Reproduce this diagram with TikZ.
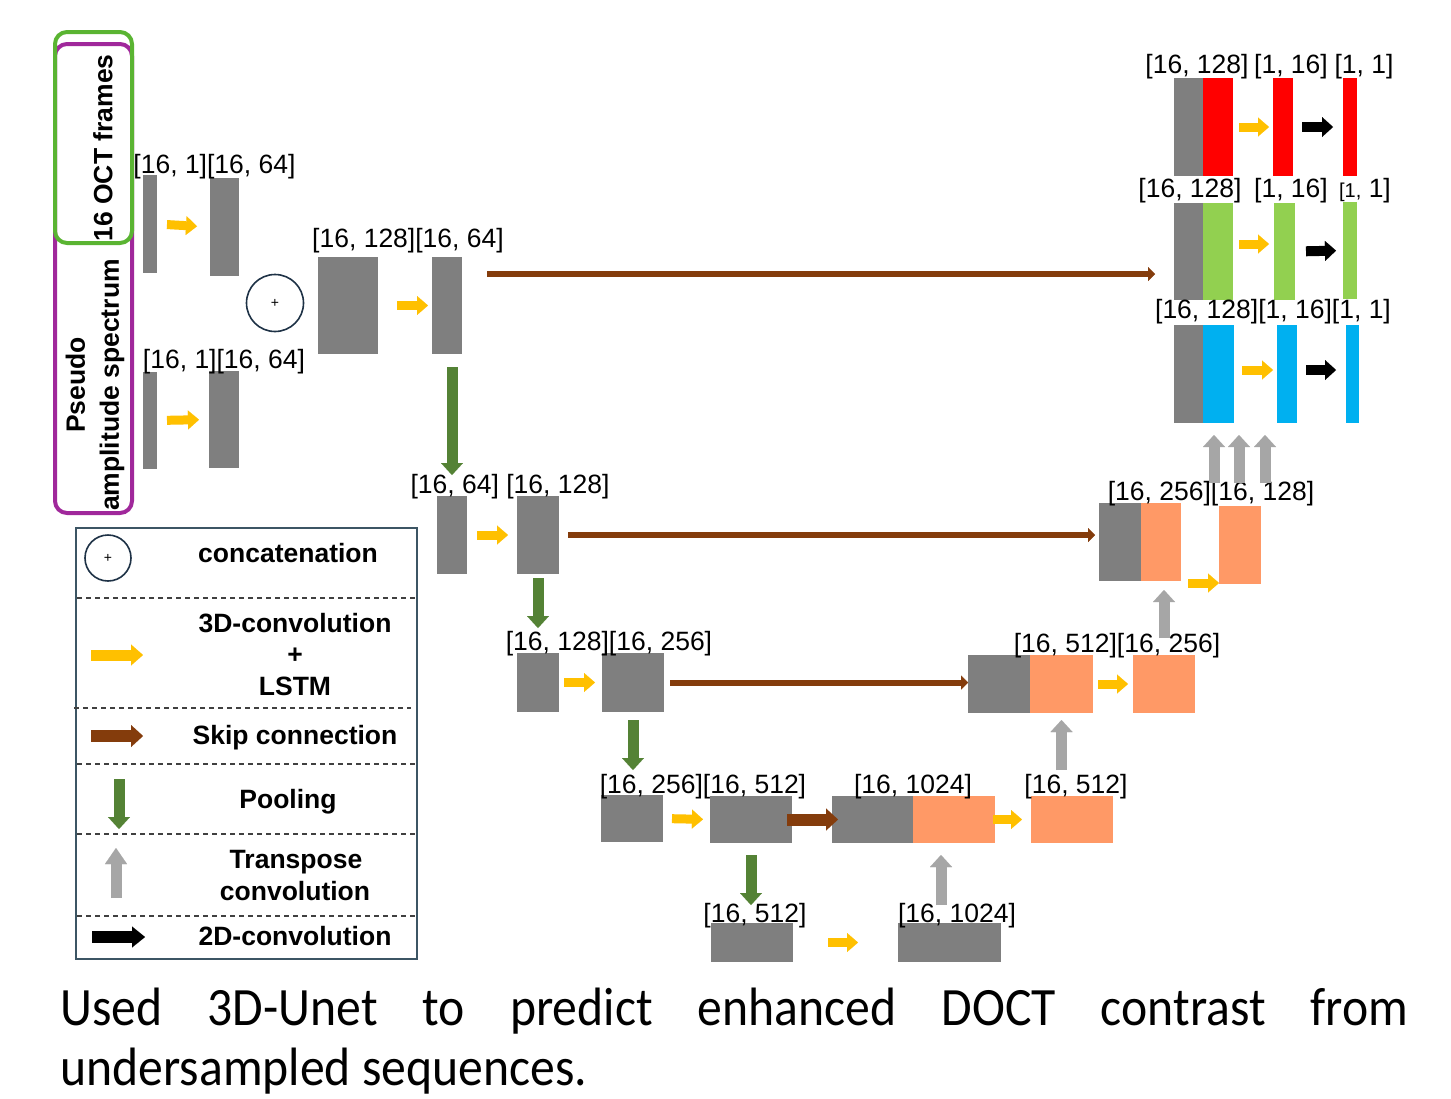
\documentclass[tikz,border=0pt]{standalone}
\usepackage{fontspec}
\usepackage{graphicx}
\setmainfont{Liberation Sans}
\newfontfamily\capfont[FakeStretch=0.92]{Carlito}
\usetikzlibrary{arrows.meta,fit,calc}

\definecolor{blkgray}{RGB}{127,127,127}
\definecolor{blkorange}{RGB}{255,153,102}
\definecolor{outred}{RGB}{255,0,0}
\definecolor{outgreen}{RGB}{146,208,80}
\definecolor{outblue}{RGB}{0,176,240}
\definecolor{convyellow}{RGB}{255,192,0}
\definecolor{skipbrown}{RGB}{132,60,12}
\definecolor{poolgreen}{RGB}{84,130,53}
\definecolor{upgray}{RGB}{166,166,166}
\definecolor{framegreen}{RGB}{90,180,50}
\definecolor{framepurple}{RGB}{160,40,155}
\definecolor{legendedge}{RGB}{60,85,100}
\definecolor{circedge}{RGB}{30,50,70}

\newcommand\lab{\fontsize{13.25}{16}\selectfont}
% block from pixel corners: name, x1, y1, x2, y2, colour
\newcommand\blockat[6]{\node[blk, fill=#6, fit={(#2,#3) (#4,#5)}] (#1) {};}

\tikzset{
  blk/.style={inner sep=0pt, outer sep=0pt, draw=none},
  dim/.style={font=\lab, inner sep=0pt, anchor=base},
  legtxt/.style={font=\lab\bfseries, inner sep=0pt, anchor=base},
  catcirc/.style={circle, draw=circedge, line width=0.8pt, inner sep=0pt, font=\fontsize{7}{8}\selectfont},
  conv/.style={draw=convyellow, line width=4.5pt, -{Triangle[length=5.5pt,width=9.5pt,line width=0.01pt]}},
  convtwo/.style={draw=black, line width=5pt, -{Triangle[length=5.5pt,width=10pt,line width=0.01pt]}},
  skipthin/.style={draw=skipbrown, line width=3pt, -{Triangle[length=3.5pt,width=7pt,line width=0.01pt]}},
  skipthick/.style={draw=skipbrown, line width=6pt, -{Triangle[length=6pt,width=11pt,line width=0.01pt]}},
  pool/.style={draw=poolgreen, line width=5.5pt, -{Triangle[length=6pt,width=11pt,line width=0.01pt]}},
  upconv/.style={draw=upgray, line width=5.5pt, -{Triangle[length=6pt,width=11pt,line width=0.01pt]}},
  sep/.style={draw=black!75, line width=0.75pt, dash pattern=on 2.5pt off 2pt},
}

\begin{document}
\begin{tikzpicture}[x=0.5pt, y=-0.5pt]
\fill[white] (0,0) rectangle (1451,1098);
\useasboundingbox (0,0) rectangle (1451,1098);

% ---- input frames ----
\node[fit={(55,44) (132,513)}, inner sep=0pt, draw=framepurple, line width=2pt, rounded corners=6pt] (pframe) {};
\node[fit={(55,32) (132,243)}, inner sep=0pt, draw=framegreen, line width=2pt, rounded corners=6pt] (gframe) {};
\node[rotate=90, font=\lab\bfseries, inner sep=0pt] (octtxt) at (103,148) {16 OCT frames};
\node[rotate=90, font=\fontsize{13.25}{17}\selectfont\bfseries, align=center, inner sep=0pt] (pastxt) at (95,385) {Pseudo\\amplitude spectrum};

% ---- encoder ----
\blockat{in1a}{143}{175}{157}{273}{blkgray}
\blockat{in1b}{210}{178}{239}{276}{blkgray}
\blockat{in2a}{143}{372}{157}{469}{blkgray}
\blockat{in2b}{209}{371}{239}{468}{blkgray}
\node[catcirc, minimum size=28.5pt] (cat) at (275,303) {+};
\blockat{e1a}{318}{257}{378}{354}{blkgray}
\blockat{e1b}{432}{257}{462}{354}{blkgray}
\blockat{e2a}{437}{496}{467}{574}{blkgray}
\blockat{e2b}{517}{496}{559}{574}{blkgray}
\blockat{e3a}{517}{653}{559}{712}{blkgray}
\blockat{e3b}{602}{653}{664}{712}{blkgray}
\blockat{e4a}{601}{795}{663}{842}{blkgray}
\blockat{e4b}{710}{796}{792}{843}{blkgray}
\blockat{bn1}{711}{923}{793}{962}{blkgray}
\blockat{bn2}{898}{923}{1001}{962}{blkgray}

% ---- decoder ----
\blockat{d4g}{832}{796}{913}{843}{blkgray}
\blockat{d4o}{913}{796}{995}{843}{blkorange}
\blockat{d4c}{1031}{796}{1113}{843}{blkorange}
\blockat{d3g}{968}{655}{1030}{713}{blkgray}
\blockat{d3o}{1030}{655}{1093}{713}{blkorange}
\blockat{d3c}{1133}{655}{1195}{713}{blkorange}
\blockat{d2g}{1099}{503}{1141}{581}{blkgray}
\blockat{d2o}{1141}{503}{1181}{581}{blkorange}
\blockat{d2c}{1219}{506}{1261}{584}{blkorange}

% ---- output heads ----
\blockat{r1g}{1174}{78}{1203}{176}{blkgray}
\blockat{r1c}{1203}{78}{1233}{176}{outred}
\blockat{r1m}{1273}{78}{1293}{176}{outred}
\blockat{r1e}{1343}{78}{1357}{176}{outred}
\blockat{r2g}{1174}{203}{1203}{300}{blkgray}
\blockat{r2c}{1203}{203}{1233}{300}{outgreen}
\blockat{r2m}{1274}{203}{1295}{300}{outgreen}
\blockat{r2e}{1343}{202}{1357}{299}{outgreen}
\blockat{r3g}{1174}{325}{1203}{423}{blkgray}
\blockat{r3c}{1203}{325}{1234}{423}{outblue}
\blockat{r3m}{1277}{325}{1297}{423}{outblue}
\blockat{r3e}{1346}{325}{1359}{423}{outblue}

% ---- size labels ----
\node[dim] (t1) at (214.5,173) {[16, 1][16, 64]};
\node[dim] (t2) at (224,368) {[16, 1][16, 64]};
\node[dim] (t3) at (408,247) {[16, 128][16, 64]};
\node[dim] (t4) at (510,493) {[16, 64] [16, 128]};
\node[dim] (t5) at (609,650) {[16, 128][16, 256]};
\node[dim] (t6) at (703,793) {[16, 256][16, 512]};
\node[dim] (t7) at (913,793) {[16, 1024]};
\node[dim] (t8) at (1076,793) {[16, 512]};
\node[dim] (t9) at (755,922) {[16, 512]};
\node[dim] (t10) at (957,922) {[16, 1024]};
\node[dim] (t11) at (1117,652) {[16, 512][16, 256]};
\node[dim] (t12) at (1211,500) {[16, 256][16, 128]};
\node[dim] (t13) at (1197,73) {[16, 128]};
\node[dim] (t14) at (1291,73) {[1, 16]};
\node[dim] (t15) at (1364,73) {[1, 1]};
\node[dim] (t16) at (1190,197) {[16, 128]};
\node[dim] (t17) at (1291,197) {[1, 16]};
\node[dim] (t18) at (1365,197) {{\fontsize{10}{12}\selectfont[1,} 1]};
\node[dim] (t19) at (1273,318) {[16, 128][1, 16][1, 1]};

% ---- 3D-convolution + LSTM ----
\draw[conv, shorten <=5pt, shorten >=6.5pt] (in1a.east) -- (in1b.west);
\draw[conv, shorten <=5pt, shorten >=5pt] (in2a.east) -- (in2b.west);
\draw[conv, shorten <=9.5pt, shorten >=2pt] (e1a.east) -- (e1b.west);
\draw[conv, shorten <=5pt, shorten >=4.5pt] (e2a.east) -- (e2b.west);
\draw[conv, shorten <=2.5pt, shorten >=3.5pt] (e3a.east) -- (e3b.west);
\draw[conv, shorten <=4.5pt, shorten >=3.5pt] (e4a.east) -- (e4b.west);
\draw[conv, shorten <=17.5pt, shorten >=20pt] (bn1.east) -- (bn2.west);
\draw[conv, shorten <=-1pt, shorten >=4.5pt] (d4o.east) -- (d4c.west);
\draw[conv, shorten <=2.5pt, shorten >=2.5pt] (d3o.east) -- (d3c.west);
\draw[conv, shorten <=3.5pt, shorten >=0pt] ([yshift=-1pt]d2o.south east) -- ([yshift=-1pt]d2o.south east -| d2c.west);
\draw[conv, shorten <=3pt, shorten >=2pt] (r1c.east) -- (r1m.west);
\draw[conv, shorten <=3pt, shorten >=2.5pt] ([yshift=3.75pt]r2c.east) -- ([yshift=3.75pt]r2c.east -| r2m.west);
\draw[conv, shorten <=4pt, shorten >=2pt] ([yshift=2pt]r3c.east) -- ([yshift=2pt]r3c.east -| r3m.west);

% ---- 2D-convolution ----
\draw[convtwo, shorten <=4.5pt, shorten >=5pt] (r1m.east) -- (r1e.west);
\draw[convtwo, shorten <=5.5pt, shorten >=3.5pt] (r2m.east) -- (r2e.west);
\draw[convtwo, shorten <=4.5pt, shorten >=5pt] ([yshift=2pt]r3m.east) -- ([yshift=2pt]r3m.east -| r3e.west);

% ---- skip connections ----
\draw[skipthin, shorten <=12.5pt, shorten >=9.5pt] ([yshift=15.75pt]e1b.east) -- ([yshift=15.75pt]e1b.east -| r2g.west);
\draw[skipthin, shorten <=4.5pt, shorten >=2pt] (e2b.east) -- (e2b.east -| d2g.west);
\draw[skipthin, shorten <=3pt, shorten >=0pt] (e3b.east) -- (e3b.east -| d3g.west);
\draw[skipthick, shorten <=-2.5pt, shorten >=-3pt] (e4b.east) -- (d4g.west);

% ---- pooling ----
\draw[pool, shorten <=6.5pt, shorten >=10.5pt] (e2a.north |- e1b.south) -- (e2a.north);
\draw[pool, shorten <=2pt, shorten >=12.5pt] (e2b.south) -- (e3a.north);
\draw[pool, shorten <=4pt, shorten >=12.5pt] (e3b.south) -- (e3b.south |- e4a.north);
\draw[pool, shorten <=6pt, shorten >=9pt] (e4b.south) -- (e4b.south |- bn1.north);

% ---- transpose convolution ----
\draw[upconv, shorten <=9pt, shorten >=6pt] ([xshift=-4.25pt]bn2.north) -- ([xshift=-4.25pt]bn2.north |- d4o.south);
\draw[upconv, shorten <=13pt, shorten >=3.5pt] (d3o.south |- d4c.north) -- (d3o.south);
\draw[upconv, shorten <=8.5pt, shorten >=4.5pt] (d3c.north) -- (d3c.north |- d2o.south);
\draw[upconv, shorten <=11.5pt, shorten >=6pt] ([xshift=-13pt]d2c.north) -- ([xshift=-13pt]d2c.north |- r3c.south);
\draw[upconv, shorten <=11.5pt, shorten >=6pt] ([xshift=-0.5pt]d2c.north) -- ([xshift=-0.5pt]d2c.north |- r3c.south);
\draw[upconv, shorten <=11.5pt, shorten >=6pt] ([xshift=12.5pt]d2c.north) -- ([xshift=12.5pt]d2c.north |- r3c.south);

% ---- legend ----
\node[fit={(76,528) (417,959)}, inner sep=0pt, draw=legendedge, line width=1pt] (legend) {};
\draw[sep] (77,598) -- (415,598);
\draw[sep] (74,708) -- (411,708);
\draw[sep] (77,764) -- (415,764);
\draw[sep] (77,834) -- (415,834);
\draw[sep] (77,916) -- (415,916);

\node[catcirc, minimum size=23pt] (lcat) at (108,558) {+};
\node[legtxt] (lt1) at (288,562) {concatenation};
\draw[conv, line width=5.5pt, -{Triangle[length=6pt,width=10.5pt,line width=0.01pt]}] (91,655) -- (143,655);
\node[legtxt] (lt2) at (295,632) {3D-convolution};
\node[legtxt] (lt3) at (295,663) {+};
\node[legtxt] (lt4) at (295,695) {LSTM};
\draw[skipthick] (91,736) -- (143,736);
\node[legtxt] (lt5) at (295,744) {Skip connection};
\draw[pool] (119,779) -- (119,829);
\node[legtxt] (lt6) at (288,808) {Pooling};
\draw[upconv, -{Triangle[length=8pt,width=11pt,line width=0.01pt]}] (116,898) -- (116,848);
\node[legtxt] (lt7) at (296,868) {Transpose};
\node[legtxt] (lt8) at (295,900) {convolution};
\draw[convtwo, line width=6pt, -{Triangle[length=6.5pt,width=10.5pt,line width=0.01pt]}] (92,937) -- (145,937);
\node[legtxt] (lt9) at (295,945) {2D-convolution};

% ---- caption ----
\node[anchor=base west, inner sep=0pt, font=\capfont\fontsize{27}{32}\selectfont] (cap1) at (60,1025)
  {\makebox[674pt][s]{Used 3D-Unet to predict enhanced DOCT contrast from}};
\node[anchor=base west, inner sep=0pt, font=\capfont\fontsize{27}{32}\selectfont] (cap2) at (60,1085)
  {undersampled sequences.};
\end{tikzpicture}
\end{document}
